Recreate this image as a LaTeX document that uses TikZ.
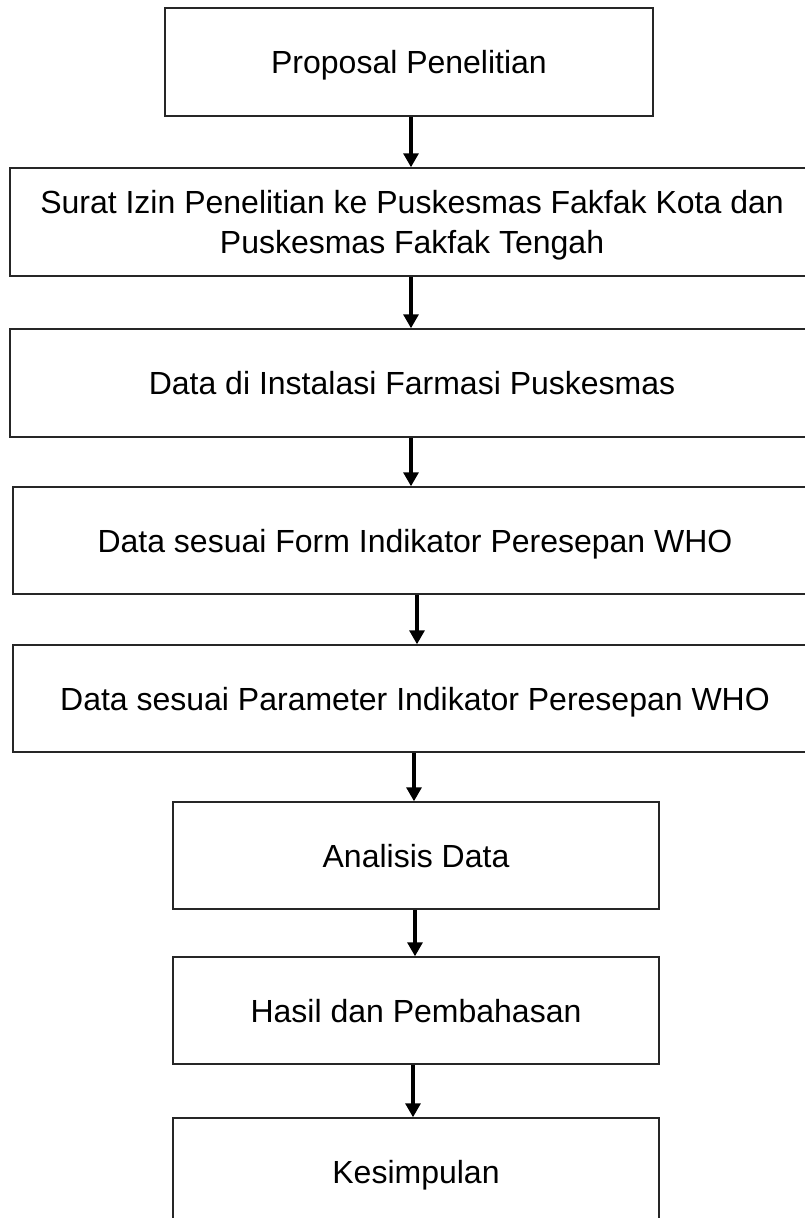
\documentclass[tikz,border=0pt]{standalone}
\usepackage{fontspec}
\setmainfont{Liberation Sans}
\usetikzlibrary{arrows.meta}
\begin{document}
\begin{tikzpicture}[x=1pt,y=-1pt,
  box/.style={draw=black!85, line width=1.5pt, inner sep=0pt, align=center,
    text depth=0pt, font=\fontsize{32}{40}\selectfont},
  wide/.style={box, minimum width=804pt, minimum height=108pt},
  narrow/.style={box, minimum width=486pt, minimum height=107pt},
  arr/.style={-{Triangle[width=15pt,length=14pt]}, line width=3.2pt}]
\useasboundingbox (0,0) rectangle (805,1218);
\node[box, minimum width=488pt, minimum height=108pt] (b1) at (409,62) {Proposal Penelitian};
\node[wide] (b2) at (412,222) {Surat Izin Penelitian ke Puskesmas Fakfak Kota dan\\Puskesmas Fakfak Tengah};
\node[wide] (b3) at (412,383) {Data di Instalasi Farmasi Puskesmas};
\node[wide, minimum height=107pt] (b4) at (415,540.5) {Data sesuai Form Indikator Peresepan WHO};
\node[wide, minimum height=107pt] (b5) at (415,698.5) {Data sesuai Parameter Indikator Peresepan WHO};
\node[narrow] (b6) at (416,855.5) {Analisis Data};
\node[narrow] (b7) at (416,1010.5) {Hasil dan Pembahasan};
\node[narrow] (b8) at (416,1171.5) {Kesimpulan};
\draw[arr] ([xshift=2pt]b1.south) -- ([xshift=-1pt]b2.north);
\draw[arr] ([xshift=-1pt]b2.south) -- ([xshift=-1pt]b3.north);
\draw[arr] ([xshift=-1pt]b3.south) -- ([xshift=-4pt]b4.north);
\draw[arr] ([xshift=2pt]b4.south) -- ([xshift=2pt]b5.north);
\draw[arr] ([xshift=-1pt]b5.south) -- ([xshift=-2pt]b6.north);
\draw[arr] ([xshift=-1pt]b6.south) -- ([xshift=-1pt]b7.north);
\draw[arr] ([xshift=-3pt]b7.south) -- ([xshift=-3pt]b8.north);
\end{tikzpicture}
\end{document}
